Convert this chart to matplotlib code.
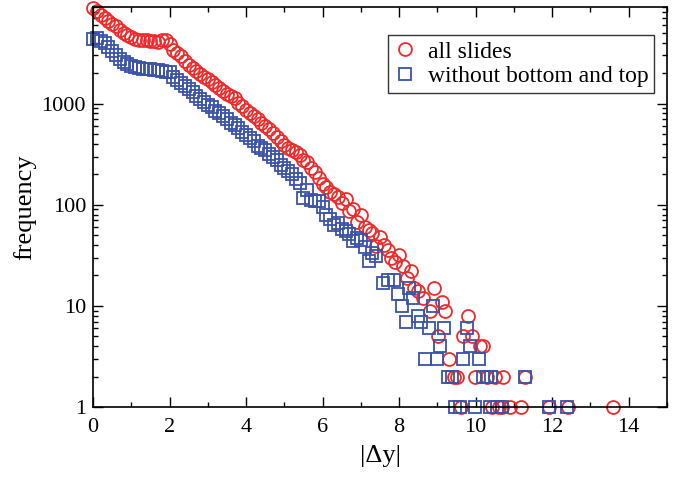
import matplotlib
matplotlib.use("Agg")
import matplotlib.pyplot as plt
from matplotlib.ticker import FixedLocator, FuncFormatter, NullFormatter

# ---------------- data ----------------
red_x_main = [round(0.1 * i, 1) for i in range(79)]  # 0.0 .. 7.8
red_y_main = [8800, 8200, 7600, 7000, 6600, 6200, 5800, 5300, 5000, 4800,
              4600, 4400, 4300, 4250, 4300, 4200, 4150, 4100, 4250, 4300,
              3900, 3400, 3150, 2950, 2650, 2400, 2250, 2100, 1950, 1850,
              1750, 1650, 1520, 1420, 1320, 1250, 1200, 1130, 1020, 940,
              860, 800, 750, 700, 650, 600, 560, 510, 470, 430,
              390, 365, 350, 335, 310, 280, 262, 230, 210, 185,
              162, 150, 135, 128, 120, 103, 113, 86, 90, 68,
              80, 60, 56, 52, 39, 48, 40, 36, 30]
red_x_tail = [7.9, 8.0, 8.1, 8.2, 8.3, 8.4, 8.5, 8.63, 8.81, 8.9, 9.01, 9.12,
              9.2, 9.3, 9.43, 9.52, 9.62, 9.68, 9.8, 9.91, 9.99, 10.12, 10.2,
              10.3, 10.43, 10.51, 10.62, 10.69, 10.71, 10.9, 11.19, 11.3,
              11.91, 12.4, 13.58]
red_y_tail = [27, 32, 25, 19, 22, 15, 14, 12, 9, 15, 5, 11,
              9, 3, 2, 2, 1, 5, 8, 5, 2, 4, 4,
              2, 1, 2, 1, 1, 2, 1, 1, 2,
              1, 1, 1]

blue_x_main = [round(0.1 * i, 1) for i in range(75)]  # 0.0 .. 7.4
blue_y_main = [4400, 4500, 4200, 3950, 3600, 3300, 3000, 2750, 2600, 2450,
               2350, 2280, 2250, 2220, 2200, 2180, 2150, 2170, 2100, 2050,
               2080, 1850, 1700, 1600, 1500, 1400, 1300, 1200, 1120, 1050,
               980, 920, 850, 800, 750, 700, 650, 610, 570, 520,
               490, 460, 430, 380, 365, 345, 320, 300, 280, 250,
               230, 215, 200, 180, 165, 118, 140, 112, 110, 108,
               95, 80, 72, 63, 66, 57, 55, 51, 44, 47,
               45, 38, 28, 33, 31]
blue_x_tail = [7.58, 7.71, 7.86, 7.96, 8.07, 8.18, 8.27, 8.37, 8.48, 8.58,
               8.68, 8.79, 8.88, 8.98, 9.08, 9.18, 9.28, 9.37, 9.47, 9.6,
               9.68, 9.78, 9.86, 9.99, 10.08, 10.19, 10.3, 10.38, 10.4,
               10.56, 10.69, 11.3, 11.91, 12.39]
blue_y_tail = [17, 18, 18, 13, 10, 7, 15, 12, 8, 7,
               3, 6, 10, 3, 4, 6, 2, 2, 1, 1,
               3, 6, 4, 1, 3, 2, 2, 1, 2,
               1, 1, 2, 1, 1]

red_x = red_x_main + red_x_tail
red_y = red_y_main + red_y_tail
blue_x = blue_x_main + blue_x_tail
blue_y = blue_y_main + blue_y_tail

x_ticks = [0, 2, 4, 6, 8, 10, 12, 14]
y_ticks = [1, 10, 100, 1000]
series_labels = ["all slides", "without bottom and top"]

# ---------------- figure ----------------
plt.rcParams['font.family'] = ['Liberation Serif', 'DejaVu Serif']

fig = plt.figure(figsize=(6.82, 4.79), dpi=100)
ax = fig.add_axes([0.1364, 0.1503, 0.8416, 0.8347])

red = '#ee2a2a'
blue = '#3a52a8'

ax.plot(red_x, red_y, linestyle='none', marker='o', ms=9.3, mew=1.3,
        mfc='none', mec=red, clip_on=False, label=series_labels[0])
ax.plot(blue_x, blue_y, linestyle='none', marker='s', ms=8.2, mew=1.3,
        mfc='none', mec=blue, clip_on=False, label=series_labels[1])

ax.set_yscale('log')
ax.set_xlim(0, 15)
ax.set_ylim(1, 9000)

ax.xaxis.set_major_locator(FixedLocator(x_ticks))
ax.xaxis.set_minor_locator(FixedLocator(list(range(0, 16))))
ax.yaxis.set_major_locator(FixedLocator(y_ticks))
minor_y = [m * 10 ** e for e in range(0, 4) for m in range(2, 10)]
ax.yaxis.set_minor_locator(FixedLocator(minor_y))
ax.yaxis.set_major_formatter(FuncFormatter(lambda v, p: f"{int(round(v))}"))
ax.yaxis.set_minor_formatter(NullFormatter())

ax.tick_params(which='both', direction='in', top=True, right=True,
               labelsize=16, width=1.0, colors='black')
ax.tick_params(which='major', length=7)
ax.tick_params(axis='x', which='major', pad=8)
ax.tick_params(axis='y', which='major', pad=5)
ax.tick_params(which='minor', length=3.6)
for s in ax.spines.values():
    s.set_linewidth(1.2)

ax.set_xlabel('|Δy|', fontsize=19, labelpad=6)
ax.set_ylabel('frequency', fontsize=19, labelpad=4)

leg = ax.legend(loc='upper right', bbox_to_anchor=(0.978, 0.93),
                borderaxespad=0, fancybox=False, shadow=False,
                frameon=True, fontsize=17, handlelength=1.0,
                handletextpad=0.45, borderpad=0.25, labelspacing=0.12)
leg.get_frame().set_edgecolor('black')
leg.get_frame().set_linewidth(1.0)

fig.savefig('out.png', dpi=100)
